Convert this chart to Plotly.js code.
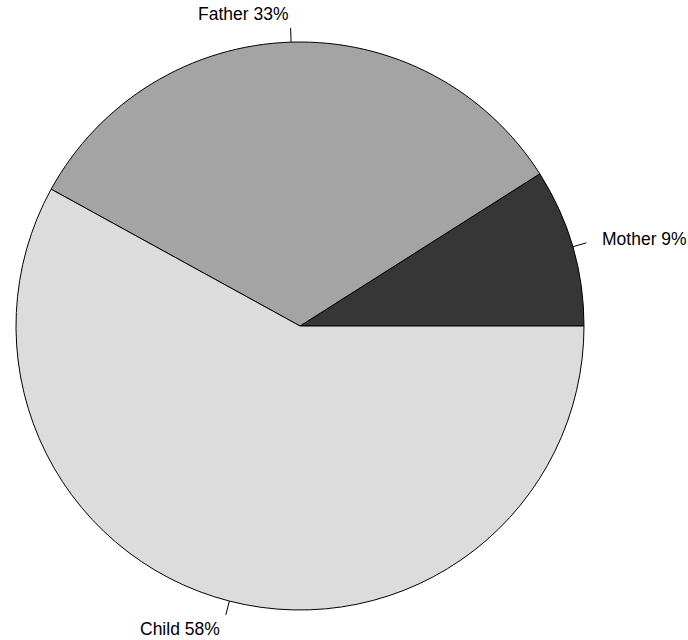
<!DOCTYPE html>
<html>
<head>
<meta charset="utf-8">
<script src="https://cdn.plot.ly/plotly-3.0.1.min.js"></script>
<style>html,body{margin:0;padding:0;background:#fff;}</style>
</head>
<body>
<div id="chart" style="width:688px;height:640px;"></div>
<script>
const labels = ["Mother", "Father", "Child"];
const values = [9, 33, 58];
const colors = ["#363636", "#a4a4a4", "#dcdcdc"];

const W = 688, H = 640;
const cx = 300, cy = 326, R = 284;

const total = values.reduce((a, b) => a + b, 0);
const shapes = [], annotations = [];
let cum = 0;
values.forEach((v, i) => {
  const mid = (cum + v / 2) / total * 2 * Math.PI;
  cum += v;
  const c = Math.cos(mid), s = Math.sin(mid);
  shapes.push({
    type: "line", xref: "paper", yref: "paper",
    x0: (cx + R * c) / W, y0: 1 - (cy - R * s) / H,
    x1: (cx + 1.05 * R * c) / W, y1: 1 - (cy - 1.05 * R * s) / H,
    line: {color: "#000", width: 1}
  });
  annotations.push({
    xref: "paper", yref: "paper",
    x: (cx + 1.1 * R * c) / W, y: 1 - (cy - 1.1 * R * s) / H,
    xanchor: c < 0 ? "right" : "left", yanchor: "middle",
    text: labels[i] + " " + Math.round(v / total * 100) + "%",
    showarrow: false,
    font: {family: "Liberation Sans, Arial, sans-serif", size: 17.5, color: "#000"}
  });
});

const trace = {
  type: "pie",
  labels: labels,
  values: values,
  sort: false,
  direction: "counterclockwise",
  rotation: 90 - 360 * values[0] / total,
  textinfo: "none",
  hoverinfo: "none",
  marker: {colors: colors, line: {color: "#000", width: 1}},
  domain: {x: [(cx - R) / W, (cx + R) / W], y: [1 - (cy + R) / H, 1 - (cy - R) / H]},
  showlegend: false
};

Plotly.newPlot("chart", [trace], {
  width: W, height: H,
  margin: {l: 0, r: 0, t: 0, b: 0},
  paper_bgcolor: "#fff",
  showlegend: false,
  shapes: shapes,
  annotations: annotations
}, {displayModeBar: false, staticPlot: true});
</script>
</body>
</html>
